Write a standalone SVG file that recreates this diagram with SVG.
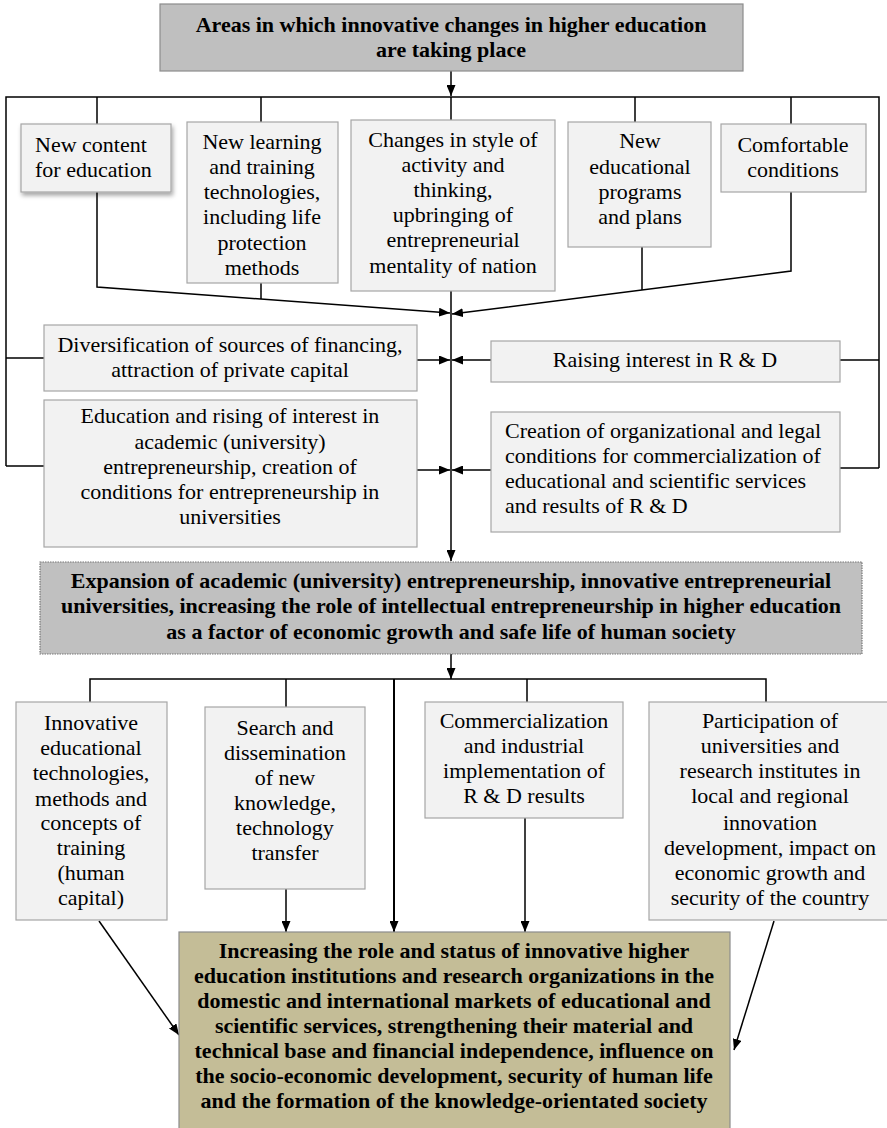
<svg xmlns="http://www.w3.org/2000/svg" width="887" height="1128" viewBox="0 0 887 1128">
<defs>
<marker id="ah" markerUnits="userSpaceOnUse" markerWidth="11" markerHeight="9" refX="11" refY="4.5" orient="auto"><path d="M0,0 L11,4.5 L0,9 z" fill="#000"/></marker>
<filter id="sh" x="-10%" y="-10%" width="130%" height="140%"><feDropShadow dx="1.5" dy="3" stdDeviation="2" flood-color="#000" flood-opacity="0.35"/></filter>
<style>
.box{fill:#f2f2f2;stroke:#a6a6a6;stroke-width:1.2}
.t{font-size:22px;fill:#000}
.c{text-anchor:middle}
.b{font-weight:bold}
.ln{fill:none;stroke:#000;stroke-width:1.5}
.ar{marker-end:url(#ah)}
</style>
</defs>
<g id="connectors">
<path class="ln ar" d="M451,71 V96"/>
<path class="ln" d="M6,466 V97 H879 V468"/>
<path class="ln" d="M97,97 V124 M261,97 V122 M451,97 V120 M635,97 V122 M791,97 V124"/>
<path class="ln ar" d="M97,192 V287 L450,313"/>
<path class="ln" d="M261,283 V299"/>
<path class="ln ar" d="M791,192 V271 L452,314"/>
<path class="ln" d="M642,247 V290"/>
<path class="ln ar" d="M451,291 V561"/>
<path class="ln" d="M6,358 H44 M840,360 H879 M6,466 H44 M840,468 H879"/>
<path class="ln ar" d="M417,360 H450"/>
<path class="ln ar" d="M491,360 H452"/>
<path class="ln ar" d="M417,470 H450"/>
<path class="ln ar" d="M491,470 H452"/>
<path class="ln ar" d="M451,654 V679"/>
<path class="ln" d="M90,702 V679 H766 V702 M286,679 V707 M527,679 V702"/>
<path class="ln ar" d="M394,679 V932" style="stroke-width:2"/>
<path class="ln ar" d="M286,889 V932"/>
<path class="ln ar" d="M525,818 V932"/>
<path class="ln ar" d="M99,921 L179,1035"/>
<path class="ln ar" d="M774,921 L734,1050"/>
</g>
<g font-family="'Liberation Serif', Tinos, 'Times New Roman', Times, 'DejaVu Serif', serif">
<g id="top">
<rect x="160" y="4" width="583" height="67" fill="#bfbfbf" stroke="#8c8c8c" stroke-width="1.2"/>
<text class="t c b" x="451" y="32">Areas in which innovative changes in higher education</text>
<text class="t c b" x="451" y="57">are taking place</text>
</g>
<g id="n1">
<rect class="box" x="21" y="124" width="150" height="68" filter="url(#sh)"/>
<text class="t" x="35" y="152">New content</text>
<text class="t" x="35" y="177">for education</text>
</g>
<g id="n2">
<rect class="box" x="187" y="122" width="151" height="161"/>
<text class="t c" x="262" y="149">New learning</text>
<text class="t c" x="262" y="174">and training</text>
<text class="t c" x="262" y="199">technologies,</text>
<text class="t c" x="262" y="224">including life</text>
<text class="t c" x="262" y="250">protection</text>
<text class="t c" x="262" y="275">methods</text>
</g>
<g id="n3">
<rect class="box" x="351" y="120" width="204" height="171"/>
<text class="t c" x="453" y="147">Changes in style of</text>
<text class="t c" x="453" y="172">activity and</text>
<text class="t c" x="453" y="197">thinking,</text>
<text class="t c" x="453" y="222">upbringing of</text>
<text class="t c" x="453" y="247">entrepreneurial</text>
<text class="t c" x="453" y="273">mentality of nation</text>
</g>
<g id="n4">
<rect class="box" x="568" y="122" width="143" height="125"/>
<text class="t c" x="640" y="148">New</text>
<text class="t c" x="640" y="174">educational</text>
<text class="t c" x="640" y="199">programs</text>
<text class="t c" x="640" y="224">and plans</text>
</g>
<g id="n5">
<rect class="box" x="721" y="124" width="145" height="68"/>
<text class="t c" x="793" y="152">Comfortable</text>
<text class="t c" x="793" y="177">conditions</text>
</g>
<g id="n6">
<rect class="box" x="44" y="325" width="373" height="66"/>
<text class="t c" x="230" y="352">Diversification of sources of financing,</text>
<text class="t c" x="230" y="377">attraction of private capital</text>
</g>
<g id="n7">
<rect class="box" x="491" y="341" width="349" height="41"/>
<text class="t c" x="665" y="367">Raising interest in R &amp; D</text>
</g>
<g id="n8">
<rect class="box" x="44" y="400" width="373" height="147"/>
<text class="t c" x="230" y="423">Education and rising of interest in</text>
<text class="t c" x="230" y="449">academic (university)</text>
<text class="t c" x="230" y="474">entrepreneurship, creation of</text>
<text class="t c" x="230" y="499">conditions for entrepreneurship in</text>
<text class="t c" x="230" y="524">universities</text>
</g>
<g id="n9">
<rect class="box" x="491" y="412" width="349" height="120"/>
<text class="t" x="505" y="438">Creation of organizational and legal</text>
<text class="t" x="505" y="463">conditions for commercialization of</text>
<text class="t" x="505" y="488">educational and scientific services</text>
<text class="t" x="505" y="513">and results of R &amp; D</text>
</g>
<g id="n10">
<rect x="40" y="562" width="822" height="92" fill="#c0c0c0" stroke="#777" stroke-width="1.2" stroke-dasharray="1.5,1"/>
<text class="t c b" x="451" y="588">Expansion of academic (university) entrepreneurship, innovative entrepreneurial</text>
<text class="t c b" x="451" y="613">universities, increasing the role of intellectual entrepreneurship in higher education</text>
<text class="t c b" x="451" y="639">as a factor of economic growth and safe life of human society</text>
</g>
<g id="n11">
<rect class="box" x="16" y="702" width="151" height="218"/>
<text class="t c" x="91" y="730">Innovative</text>
<text class="t c" x="91" y="755">educational</text>
<text class="t c" x="91" y="780">technologies,</text>
<text class="t c" x="91" y="806">methods and</text>
<text class="t c" x="91" y="830">concepts of</text>
<text class="t c" x="91" y="855">training</text>
<text class="t c" x="91" y="880">(human</text>
<text class="t c" x="91" y="905">capital)</text>
</g>
<g id="n12">
<rect class="box" x="205" y="707" width="160" height="182"/>
<text class="t c" x="285" y="735">Search and</text>
<text class="t c" x="285" y="760">dissemination</text>
<text class="t c" x="285" y="785">of new</text>
<text class="t c" x="285" y="810">knowledge,</text>
<text class="t c" x="285" y="835">technology</text>
<text class="t c" x="285" y="860">transfer</text>
</g>
<g id="n13">
<rect class="box" x="425" y="702" width="198" height="116"/>
<text class="t c" x="524" y="728">Commercialization</text>
<text class="t c" x="524" y="753">and industrial</text>
<text class="t c" x="524" y="778">implementation of</text>
<text class="t c" x="524" y="803">R &amp; D results</text>
</g>
<g id="n14">
<rect class="box" x="649" y="702" width="240" height="218"/>
<text class="t c" x="770" y="728">Participation of</text>
<text class="t c" x="770" y="753">universities and</text>
<text class="t c" x="770" y="778">research institutes in</text>
<text class="t c" x="770" y="803">local and regional</text>
<text class="t c" x="770" y="830">innovation</text>
<text class="t c" x="770" y="855">development, impact on</text>
<text class="t c" x="770" y="880">economic growth and</text>
<text class="t c" x="770" y="905">security of the country</text>
</g>
<g id="n15">
<rect x="179" y="932" width="551" height="200" fill="#c4bd97" stroke="#8c8c8c" stroke-width="1.2"/>
<text class="t c b" x="454" y="958">Increasing the role and status of innovative higher</text>
<text class="t c b" x="454" y="983">education institutions and research organizations in the</text>
<text class="t c b" x="454" y="1008">domestic and international markets of educational and</text>
<text class="t c b" x="454" y="1033">scientific services, strengthening their material and</text>
<text class="t c b" x="454" y="1058">technical base and financial independence, influence on</text>
<text class="t c b" x="454" y="1083">the socio-economic development, security of human life</text>
<text class="t c b" x="454" y="1108">and the formation of the knowledge-orientated society</text>
</g>
</g>
</svg>
